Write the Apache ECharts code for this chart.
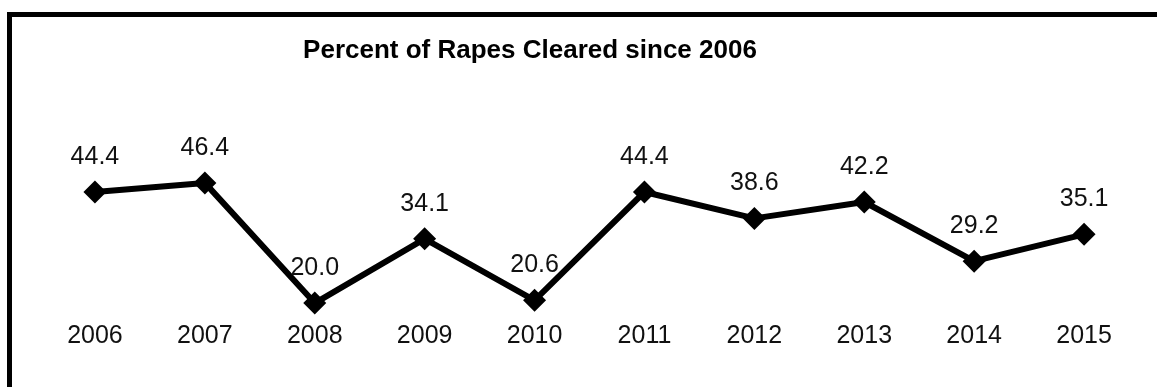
<!DOCTYPE html>
<html>
<head>
<meta charset="utf-8">
<script src="https://cdn.jsdelivr.net/npm/echarts@6/dist/echarts.min.js"></script>
<style>
html,body{margin:0;padding:0;background:#fff;}
#chart{width:1157px;height:387px;}
</style>
</head>
<body>
<div id="chart"></div>
<script>
const titleText = 'Percent of Rapes Cleared since 2006';
const years = ['2006','2007','2008','2009','2010','2011','2012','2013','2014','2015'];
const percentCleared = [44.4, 46.4, 20.0, 34.1, 20.6, 44.4, 38.6, 42.2, 29.2, 35.1];

const chart = echarts.init(document.getElementById('chart'), null, {renderer: 'canvas'});
chart.setOption({
  backgroundColor: '#ffffff',
  animation: false,
  grid: {left: 40, right: 18, top: 166.5, bottom: 70.3, containLabel: false},
  xAxis: {
    type: 'category',
    data: years,
    boundaryGap: true,
    axisLine: {show: false},
    axisTick: {show: false},
    splitLine: {show: false},
    axisLabel: {
      margin: 7,
      color: '#111',
      fontFamily: 'Liberation Sans, Arial, sans-serif',
      fontSize: 25
    }
  },
  yAxis: {
    type: 'value',
    min: 17,
    max: 50,
    show: false,
    splitLine: {show: false}
  },
  graphic: [
    {type: 'line', shape: {x1: 7, y1: 14.5, x2: 1157, y2: 14.5}, style: {stroke: '#000', lineWidth: 5}},
    {type: 'line', shape: {x1: 9.5, y1: 12, x2: 9.5, y2: 387}, style: {stroke: '#000', lineWidth: 5}},
    {type: 'text', x: 530, y: 51, style: {
      text: titleText, fill: '#000', align: 'center', verticalAlign: 'middle',
      font: 'bold 26px "Liberation Sans", Arial, sans-serif'
    }}
  ],
  series: [{
    type: 'line',
    data: percentCleared,
    symbol: 'diamond',
    symbolSize: 23,
    showAllSymbol: true,
    lineStyle: {color: '#000', width: 6},
    itemStyle: {color: '#000'},
    label: {
      show: true,
      position: 'top',
      distance: 11,
      color: '#111',
      fontFamily: 'Liberation Sans, Arial, sans-serif',
      fontSize: 25,
      formatter: p => p.value.toFixed(1)
    }
  }]
});
</script>
</body>
</html>
